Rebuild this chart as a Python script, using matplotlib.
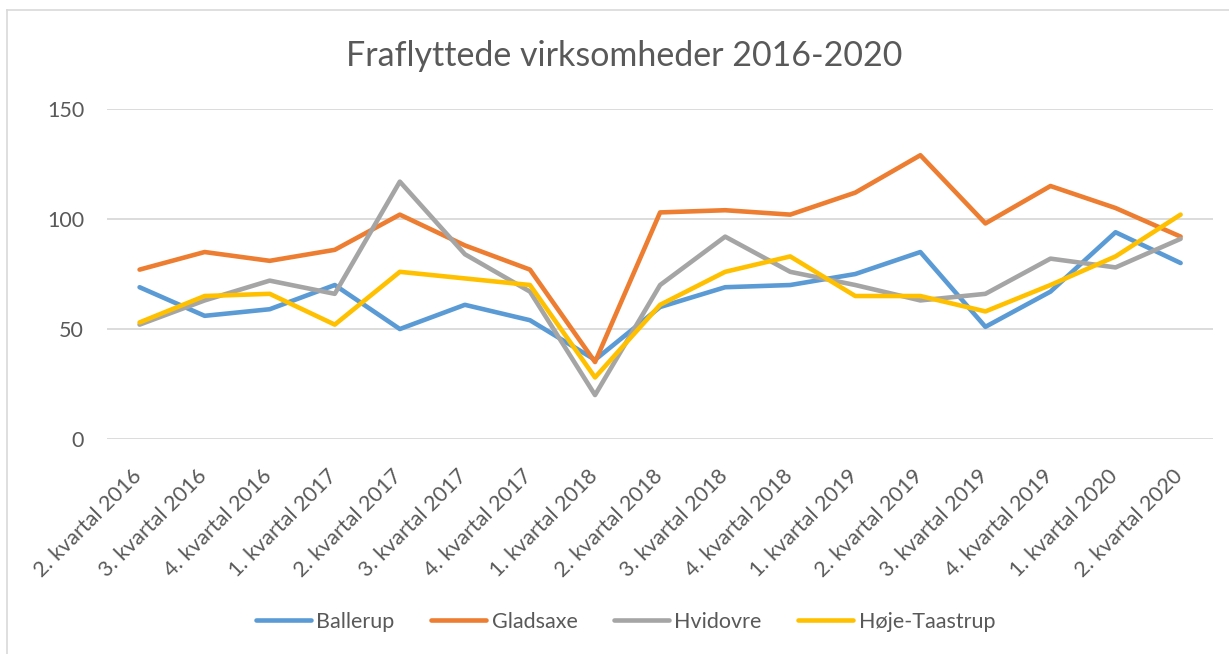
import numpy as np
import matplotlib.pyplot as plt
from matplotlib.lines import Line2D
from matplotlib.transforms import ScaledTranslation

# kvartaler
kvartaler = ["2. kvartal 2016", "3. kvartal 2016", "4. kvartal 2016",
             "1. kvartal 2017", "2. kvartal 2017", "3. kvartal 2017", "4. kvartal 2017",
             "1. kvartal 2018", "2. kvartal 2018", "3. kvartal 2018", "4. kvartal 2018",
             "1. kvartal 2019", "2. kvartal 2019", "3. kvartal 2019", "4. kvartal 2019",
             "1. kvartal 2020", "2. kvartal 2020"]

ballerup = [69, 56, 59, 70, 50, 61, 54, 36, 60, 69, 70, 75, 85, 51, 67, 94, 80]
gladsaxe = [77, 85, 81, 86, 102, 88, 77, 35, 103, 104, 102, 112, 129, 98, 115, 105, 92]
hvidovre = [52, 63, 72, 66, 117, 84, 67, 20, 70, 92, 76, 70, 63, 66, 82, 78, 91]
hoeje_taastrup = [53, 65, 66, 52, 76, 73, 70, 28, 61, 76, 83, 65, 65, 58, 70, 83, 102]

serier = ["Ballerup", "Gladsaxe", "Hvidovre", "Høje-Taastrup"]
farver = ["#5B9BD5", "#ED7D31", "#A5A5A5", "#FFC000"]

plt.rcParams['font.family'] = ['Lato', 'DejaVu Sans']
tekst = "#595959"

fig = plt.figure(figsize=(12.29, 6.54), dpi=100)
ax = fig.add_axes([0.0871, 0.3287, 0.900, 0.5046])

x = np.arange(len(kvartaler))
for data, farve in zip([ballerup, gladsaxe, hvidovre, hoeje_taastrup], farver):
    ax.plot(x, data, color=farve, lw=3.3, solid_joinstyle='round', solid_capstyle='round')

ax.set_xlim(-0.5, len(kvartaler) - 0.5)
ax.set_ylim(0, 150)
ax.set_yticks([0, 50, 100, 150])
ax.grid(axis='y', color="#D9D9D9", lw=1.3)
ax.set_axisbelow(True)
for s in ax.spines.values():
    s.set_visible(False)
ax.tick_params(axis='both', length=0, labelsize=15.5, labelcolor=tekst)
ax.tick_params(axis='y', pad=16.5)
ax.set_xticks(x)
ax.set_xticklabels(kvartaler, rotation=45, ha='right', va='top', rotation_mode='anchor')
ax.tick_params(axis='x', pad=12)
# flyt etiketterne lidt ned og til venstre som i Excel
skub = ScaledTranslation(-8 / 100, -10 / 100, fig.dpi_scale_trans)
for lbl in ax.get_xticklabels():
    lbl.set_transform(lbl.get_transform() + skub)

fig.text(0.508, 0.914, "Fraflyttede virksomheder 2016-2020", ha='center', va='center',
         fontsize=24.5, color=tekst)

handles = [Line2D([0], [0], color=f, lw=3.3, solid_capstyle='round') for f in farver]
fig.legend(handles, serier, loc='center', bbox_to_anchor=(0.509, 0.049), ncol=4,
           frameon=False, fontsize=15.5, labelcolor=tekst, handlelength=2.55,
           handletextpad=0.25, columnspacing=1.7)

# kant rundt om diagrammet
fig.add_artist(Line2D([0.0057, 0.0057], [0, 0.985], transform=fig.transFigure, color="#D9D9D9", lw=1.2))
fig.add_artist(Line2D([0.0057, 1], [0.985, 0.985], transform=fig.transFigure, color="#D9D9D9", lw=1.2))

fig.savefig("out.png", dpi=100)
